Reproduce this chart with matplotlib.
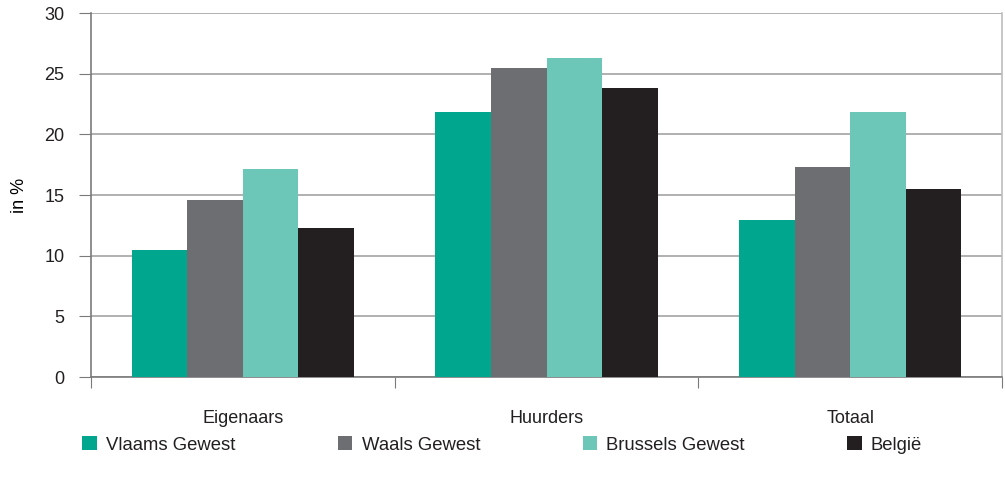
import matplotlib.pyplot as plt
import numpy as np

# data
categories = ['Eigenaars', 'Huurders', 'Totaal']
series_names = ['Vlaams Gewest', 'Waals Gewest', 'Brussels Gewest', 'België']
vlaams = [10.5, 21.8, 12.9]
waals = [14.6, 25.5, 17.3]
brussels = [17.15, 26.3, 21.8]
belgie = [12.3, 23.8, 15.5]

colors = ['#00A78E', '#6D6E71', '#6CC7B9', '#231F20']
TEXT = '#231F20'
FS = 13


def main():
    plt.rcParams.update({
        'font.family': ['Liberation Sans', 'DejaVu Sans'],
        'font.size': FS,
        'text.color': TEXT,
        'xtick.color': TEXT,
        'ytick.color': TEXT,
    })

    fig = plt.figure(figsize=(10.05, 4.84), dpi=100)
    ax = fig.add_axes([91 / 1005, 1 - 377 / 484, (1002 - 91) / 1005, (377 - 13) / 484])

    centers = np.arange(len(categories)) + 0.5
    width = 0.183
    all_series = [vlaams, waals, brussels, belgie]
    for i, (name, vals) in enumerate(zip(series_names, all_series)):
        offset = (i - 1.5) * width
        ax.bar(centers + offset, vals, width, color=colors[i], label=name, zorder=3)

    ax.set_xlim(0, 3)
    ax.set_ylim(0, 30)
    ax.set_yticks(range(0, 31, 5))
    ax.yaxis.grid(True, color='#A3A3A3', linewidth=1.2, zorder=0)

    # group separators as major ticks, category names on minor ticks
    ax.set_xticks([0, 1, 2, 3])
    ax.set_xticklabels([])
    ax.set_xticks(centers, minor=True)
    ax.set_xticklabels(categories, minor=True)
    ax.tick_params(axis='x', which='minor', length=0, pad=24, labelsize=FS)
    ax.tick_params(axis='x', which='major', length=8, direction='out', color='#7A7A7A')
    ax.tick_params(axis='y', length=9, direction='out', color='#7A7A7A', pad=10, labelsize=FS)

    ax.spines['top'].set_visible(False)
    ax.spines['left'].set_color('#7A7A7A')
    ax.spines['bottom'].set_color('#7A7A7A')
    ax.spines['right'].set_color('#BDBDBD')
    for s in ['left', 'bottom', 'right']:
        ax.spines[s].set_linewidth(1.2)

    ax.set_ylabel('in %', fontsize=FS, labelpad=12)

    fig.legend(loc='center left', bbox_to_anchor=(75 / 1005, 1 - 445 / 484), ncol=4,
               frameon=False, handlelength=0.78, handleheight=0.78,
               handletextpad=0.5, columnspacing=5.55, fontsize=13.3,
               borderaxespad=0.0)

    fig.savefig('out.png', dpi=100)


if __name__ == '__main__':
    main()
